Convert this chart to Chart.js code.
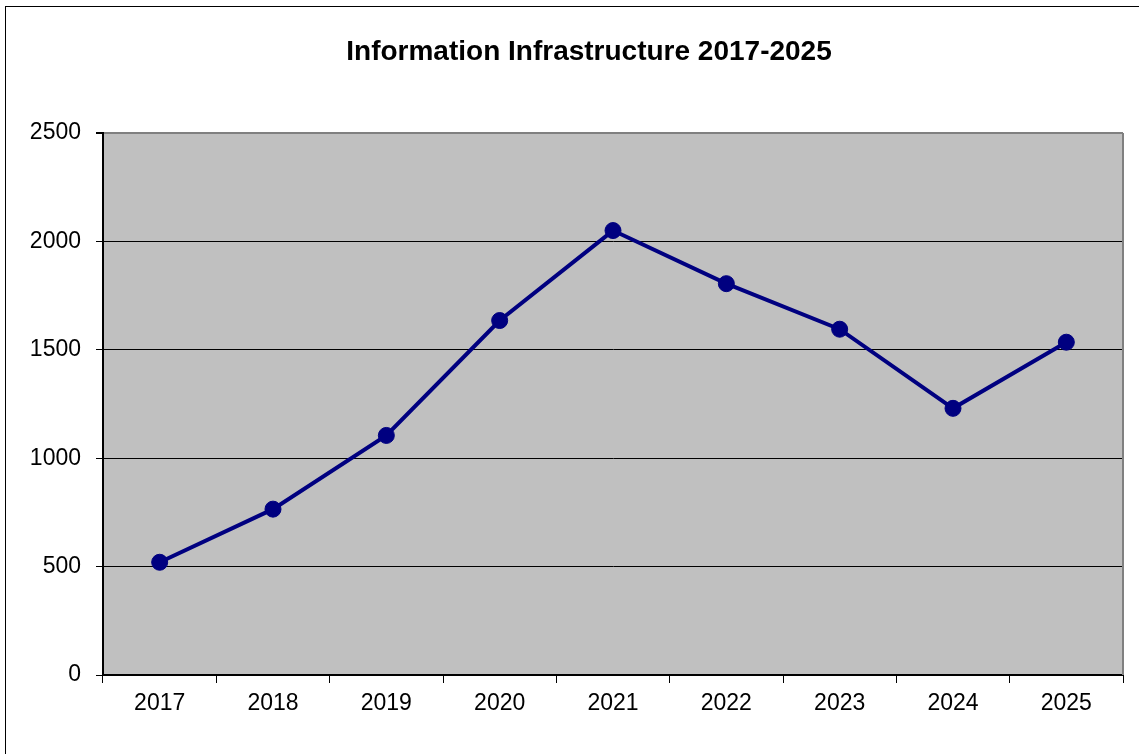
<!DOCTYPE html>
<html>
<head>
<meta charset="utf-8">
<script src="https://cdn.jsdelivr.net/npm/chart.js@4.4.1/dist/chart.umd.min.js"></script>
<style>
  html, body { margin: 0; padding: 0; background: #ffffff; }
  #wrap { width: 1139px; height: 754px; position: relative; }
</style>
</head>
<body>
<div id="wrap"><canvas id="c" width="1139" height="754"></canvas></div>
<script>
const TITLE = 'Information Infrastructure 2017-2025';
const categories = ['2017', '2018', '2019', '2020', '2021', '2022', '2023', '2024', '2025'];
const values = [520, 765, 1105, 1635, 2050, 1805, 1595, 1230, 1535];
const yTicks = [0, 500, 1000, 1500, 2000, 2500];

const FONT = '"Liberation Sans", Arial, sans-serif';

const framePlugin = {
  id: 'frame',
  beforeDraw(chart) {
    const ctx = chart.ctx;
    const a = chart.chartArea;
    ctx.save();
    ctx.fillStyle = '#ffffff';
    ctx.fillRect(0, 0, chart.width, chart.height);
    // outer chart border
    ctx.strokeStyle = '#000000';
    ctx.lineWidth = 1;
    ctx.strokeRect(5.5, 6.5, chart.width + 10, chart.height + 10);
    // plot background
    ctx.fillStyle = '#C0C0C0';
    ctx.fillRect(a.left, a.top, a.right - a.left, a.bottom - a.top);
    // title
    ctx.fillStyle = '#000000';
    ctx.font = 'bold 28px ' + FONT;
    ctx.textAlign = 'center';
    ctx.textBaseline = 'alphabetic';
    ctx.fillText(TITLE, 589, 60);
    ctx.restore();
  },
  beforeDatasetsDraw(chart) {
    const ctx = chart.ctx;
    const a = chart.chartArea;
    ctx.save();
    ctx.strokeStyle = '#808080';
    ctx.lineWidth = 2;
    ctx.beginPath();
    ctx.moveTo(a.right, a.top);
    ctx.lineTo(a.right, a.bottom);
    ctx.stroke();
    ctx.restore();
  }
};

new Chart(document.getElementById('c'), {
  type: 'line',
  data: {
    labels: categories,
    datasets: [{
      data: values,
      borderColor: '#000080',
      backgroundColor: '#000080',
      borderWidth: 4,
      pointRadius: 8,
      pointHoverRadius: 8,
      pointBackgroundColor: '#000080',
      pointBorderColor: '#000080',
      pointBorderWidth: 1,
      tension: 0,
      fill: false
    }]
  },
  options: {
    responsive: false,
    animation: false,
    devicePixelRatio: 1,
    layout: { padding: { top: 133, right: 16, bottom: 0, left: 0 } },
    plugins: {
      legend: { display: false },
      title: { display: false },
      tooltip: { enabled: false }
    },
    scales: {
      x: {
        type: 'category',
        offset: true,
        afterFit(s) { s.height = 79; },
        grid: {
          offset: true,
          drawOnChartArea: false,
          drawTicks: true,
          tickLength: 8,
          tickColor: '#000000',
          color: '#000000',
          lineWidth: 1
        },
        border: { display: true, color: '#000000', width: 2 },
        ticks: {
          color: '#000000',
          font: { family: FONT, size: 23 },
          padding: 7,
          maxRotation: 0,
          autoSkip: false
        }
      },
      y: {
        min: 0,
        max: 2500,
        afterFit(s) { s.width = 103; },
        afterBuildTicks(s) { s.ticks = yTicks.map(v => ({ value: v })); },
        grid: {
          drawOnChartArea: true,
          drawTicks: true,
          tickLength: 7,
          tickColor: '#000000',
          color: (c) => (c.tick && c.tick.value === 2500) ? '#808080' : '#000000',
          lineWidth: (c) => (c.tick && c.tick.value === 2500) ? 2 : 1
        },
        border: { display: true, color: '#000000', width: 2 },
        ticks: {
          color: '#000000',
          font: { family: FONT, size: 23 },
          padding: 15,
          callback: (v) => String(v)
        }
      }
    }
  },
  plugins: [framePlugin]
});
</script>
</body>
</html>
